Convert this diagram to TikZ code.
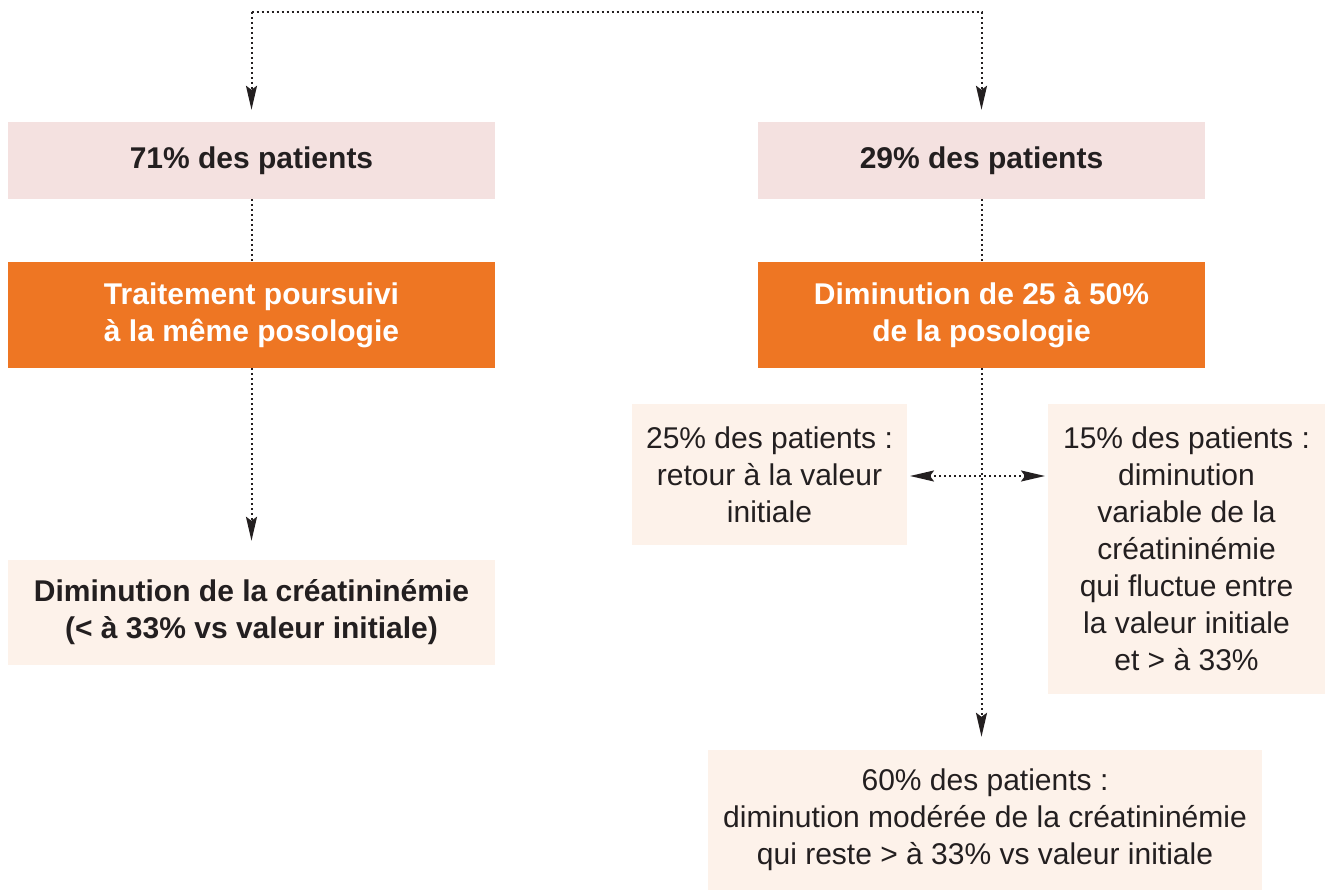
\documentclass[tikz,border=0pt]{standalone}
\usepackage{fontspec}
\setmainfont{Liberation Sans}
\usepackage{tikz}
\usetikzlibrary{positioning, calc, arrows.meta}
\definecolor{crPink}{RGB}{244,225,224}
\definecolor{crOrange}{RGB}{238,118,35}
\definecolor{crCream}{RGB}{253,242,234}
\definecolor{crText}{RGB}{35,31,32}

\begin{document}
\begin{tikzpicture}[x=1pt, y=-1pt,
    box/.style={inner sep=0pt, align=center, text=crText, font=\fontsize{30}{37}\selectfont},
    headbox/.style={box, fill=crPink, font=\fontsize{30}{37}\selectfont\bfseries},
    treatbox/.style={box, fill=crOrange, text=white, font=\fontsize{30}{37}\selectfont\bfseries},
    resultbox/.style={box, fill=crCream},
    dots/.style={draw=crText, line width=2pt, dash pattern=on 2pt off 3pt},
    tip/.style={dots, -{Stealth[length=24pt, width=11pt, inset=4pt]}}]
    \useasboundingbox (0,0) rectangle (1333,893);

    % two branches
    \node[headbox, minimum width=487pt, minimum height=77pt] (left) at (251.5,160.5) {71\% des patients};
    \node[headbox, minimum width=447pt, minimum height=77pt] (right) at (981.5,160.5) {29\% des patients};

    \node[treatbox, minimum width=487pt, minimum height=106pt] (same) at (251.5,315) {Traitement poursuivi\\à la même posologie};
    \node[treatbox, minimum width=447pt, minimum height=106pt] (lower) at (981.5,315) {Diminution de 25 à 50\%\\de la posologie};

    \node[resultbox, minimum width=487pt, minimum height=105pt, font=\fontsize{30}{37}\selectfont\bfseries] (drop) at (251.5,612.5) {Diminution de la créatininémie\\(< à 33\% vs valeur initiale)};

    % outcomes after lowering the dose
    \node[resultbox, minimum width=275pt, minimum height=141pt] (back) at (769.5,474.5) {25\% des patients :\\retour à la valeur\\initiale};
    \node[resultbox, minimum width=277pt, minimum height=290pt] (vary) at (1186.5,549) {15\% des patients :\\diminution\\variable de la\\créatininémie\\qui fluctue entre\\la valeur initiale\\et > à 33\%};
    \node[resultbox, minimum width=554pt, minimum height=140pt] (mild) at (985,820) {60\% des patients :\\diminution modérée de la créatininémie\\qui reste > à 33\% vs valeur initiale};

    \coordinate (top) at (600,12);
    \coordinate (splitL) at (907,476);
    \coordinate (splitR) at (1048,476);

    % connectors
    \draw[tip, shorten >=12pt] (top -| left.north) -- (top -| right.north) -- (right.north);
    \draw[tip, shorten >=12pt] (top -| left.north) -- (left.north);
    \draw[dots] (left.south) -- (same.north);
    \draw[dots] (right.south) -- (lower.north);
    \draw[tip, shorten >=19pt] (same.south) -- (drop.north);
    \draw[tip, shorten >=13pt] (lower.south) -- (lower.south |- mild.north);
    \draw[dots, {Stealth[length=24pt, width=11pt, inset=4pt]}-{Stealth[length=24pt, width=11pt, inset=4pt]}, shorten <=3pt, shorten >=3pt] (splitL) -- (splitR);
\end{tikzpicture}
\end{document}
